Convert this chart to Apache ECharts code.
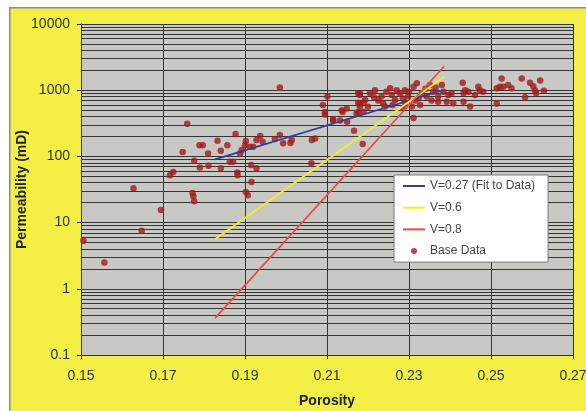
<!DOCTYPE html>
<html><head><meta charset="utf-8">
<script src="https://cdn.jsdelivr.net/npm/echarts@6/dist/echarts.min.js"></script>
<style>html,body{margin:0;padding:0;background:#fff}#c{width:586px;height:411px}</style>
</head><body><div id="c"></div>
<script>
// Tick labels
const xTicks = ['0.15','0.17','0.19','0.21','0.23','0.25','0.27'];
const yTicks = [0.1, 1, 10, 100, 1000, 10000];
// Base data
const basePorosity = [0.1506,0.1557,0.1628,0.1648,0.1695,0.1717,0.1725,0.1748,0.1759,0.1772,0.1774,0.1776,
0.1776,0.1789,0.1797,0.1790,0.1811,0.1810,0.1833,0.1841,0.1841,0.1857,0.1863,0.1871,0.1877,0.1881,0.1882,0.1892,0.1888,0.1900,0.1902,0.1912,0.1920,0.1928,0.1915,0.1916,0.1902,0.1907,
0.1937,0.1943,0.1928,0.1973,0.1985,0.1993,0.2014,0.2011,0.1985,
0.2063,0.2071,0.2062,
0.2101,0.2090,0.2095,0.2095,0.2115,0.2132,0.2138,0.2148,0.2149,0.2166,0.2187,0.2176,0.2176,0.2176,0.2136,0.2115,
0.2180,0.2205,0.2217,0.2193,0.2180,0.2189,0.2172,0.2233,0.2254,0.2237,0.2258,0.2266,0.2278,0.2290,0.2298,0.2311,0.2319,0.2307,0.2311,0.2323,0.2331,0.2343,0.2351,0.2359,0.2371,0.2380,0.2384,0.2396,0.2392,0.2371,0.2327,0.2286,0.2241,0.2180,0.2180,0.2189,
0.2215,0.2245,0.2270,0.2285,0.2300,0.2315,0.2340,0.2355,0.2365,0.2200,0.2225,0.2260,0.2290,
0.2404,0.2431,0.2437,0.2433,0.2445,0.2433,0.2449,0.2461,0.2469,0.2473,0.2481,0.2514,0.2522,0.2526,0.2530,0.2542,0.2550,0.2514,0.2575,0.2583,0.2595,0.2603,0.2607,0.2610,0.2620,0.2629,0.2408];
const basePerm = [5.3,2.5,33,7.5,15.5,52,58,117,310,28,25,21,
86,148,148,68,72,111,173,122,66,148,83,83,218,57,52,125,111,148,171,140,140,177,74,41,29,26,
203,167,66,183,210,158,177,160,1100,
177,187,79,
800,600,470,430,350,350,470,530,335,244,154,470,645,900,500,365,
900,900,1000,710,634,473,446,800,1070,634,845,710,900,1000,800,1130,1270,567,380,755,900,800,1200,950,800,1200,950,845,670,670,600,534,567,845,567,650,
780,950,1000,750,950,700,1050,700,1100,560,700,600,650,
900,1300,1000,900,950,670,567,845,1130,1000,950,1070,1130,1500,1130,1200,1070,630,1500,780,1300,1150,1000,900,1400,980,634];
// Model lines
const fitX = [0.1827, 0.2383];
const fitY = [90, 1000];
const v06X = [0.1827, 0.2386];
const v06Y = [5.6, 1600];
const v08X = [0.1827, 0.2386];
const v08Y = [0.36, 2300];

const X0 = 0.15;
const pairs = (xs, ys) => xs.map((x, i) => [x - X0, ys[i]]);
// minor gridlines of log axis
const gridVals = [];
for (let e = -1; e <= 3; e++) for (let m = 1; m <= 9; m++) gridVals.push(+(m * Math.pow(10, e)).toPrecision(3));

const chart = echarts.init(document.getElementById('c'), null, {renderer: 'canvas'});
const GRIDC = '#353535';
const FONT = 'Liberation Sans, Arial';
const lineIcon = 'path://M0,0 L22,0 L22,2 L0,2 Z';
chart.setOption({
  animation: false,
  backgroundColor: '#ffffff',
  graphic: [{
    type: 'rect', left: 9, top: 7, z: -10,
    shape: {width: 600, height: 420},
    style: {fill: '#f4ef45', stroke: '#8a8a8a', lineWidth: 1.5}
  }],
  grid: {left: 81, right: 13, top: 24, bottom: 56, show: true, backgroundColor: '#c8c8c5', borderWidth: 0,
    containLabel: false, outerBoundsMode: 'none'},
  legend: {
    left: 394, top: 175, orient: 'vertical', z: 20,
    backgroundColor: '#ffffff', borderColor: '#7a7a7a', borderWidth: 1,
    padding: [5, 13, 5, 9], itemGap: 9.7, itemWidth: 22, itemHeight: 6,
    textStyle: {fontFamily: FONT, fontSize: 12, color: '#444'},
    data: [
      {name: 'V=0.27 (Fit to Data)', icon: lineIcon},
      {name: 'V=0.6', icon: lineIcon},
      {name: 'V=0.8', icon: lineIcon},
      {name: 'Base Data', icon: 'circle'}
    ]
  },
  xAxis: {
    type: 'value', min: 0, max: 0.12, interval: 0.02,
    name: 'Porosity', nameLocation: 'middle', nameGap: 39, nameMoveOverlap: false,
    nameTextStyle: {fontFamily: FONT, fontWeight: 'bold', fontSize: 14, color: '#222'},
    axisLine: {show: true, lineStyle: {color: '#333', width: 1}},
    axisTick: {show: true, inside: false, length: 4, lineStyle: {color: '#333'}},
    axisLabel: {margin: 14, fontFamily: FONT, fontSize: 14, color: '#333',
      formatter: v => xTicks[Math.round(v / 0.02)] || ''},
    splitLine: {show: true, lineStyle: {color: GRIDC, width: 1}}
  },
  yAxis: {
    type: 'log', logBase: 10, min: 0.1, max: 10000,
    name: 'Permeability (mD)', nameLocation: 'middle', nameGap: 52, nameMoveOverlap: false,
    nameTextStyle: {fontFamily: FONT, fontWeight: 'bold', fontSize: 14, color: '#222'},
    axisLine: {show: true, lineStyle: {color: '#333', width: 1}},
    axisTick: {show: true, inside: false, length: 4, lineStyle: {color: '#333'}},
    axisLabel: {margin: 11, fontFamily: FONT, fontSize: 14, color: '#333',
      formatter: v => { const t = yTicks.find(k => Math.abs(Math.log10(k) - Math.log10(v)) < 1e-6); return t === undefined ? '' : String(t); }},
    splitLine: {show: true, lineStyle: {color: GRIDC, width: 1}}
  },
  series: [
    {
      name: '_grid', type: 'line', data: [], z: 0, silent: true,
      markLine: {
        silent: true, symbol: 'none', label: {show: false}, animation: false, z: 0,
        lineStyle: {color: GRIDC, width: 1, type: 'solid'},
        data: gridVals.map(v => ({yAxis: v}))
      }
    },
    {
      name: 'V=0.27 (Fit to Data)', type: 'line', data: pairs(fitX, fitY), symbol: 'none', z: 8,
      lineStyle: {color: '#2f3f9e', width: 1.7}, itemStyle: {color: '#2f3f9e'}
    },
    {
      name: 'V=0.6', type: 'line', data: pairs(v06X, v06Y), symbol: 'none', z: 8,
      lineStyle: {color: '#f2ef1e', width: 1.9}, itemStyle: {color: '#f2ef1e'}
    },
    {
      name: 'V=0.8', type: 'line', data: pairs(v08X, v08Y), symbol: 'none', z: 8,
      lineStyle: {color: '#f04a3a', width: 1.7}, itemStyle: {color: '#f04a3a'}
    },
    {
      name: 'Base Data', type: 'scatter', data: pairs(basePorosity, basePerm), z: 7,
      symbol: 'circle', symbolSize: 6.5, itemStyle: {color: '#a21c1c'}
    }
  ]
});
</script></body></html>
